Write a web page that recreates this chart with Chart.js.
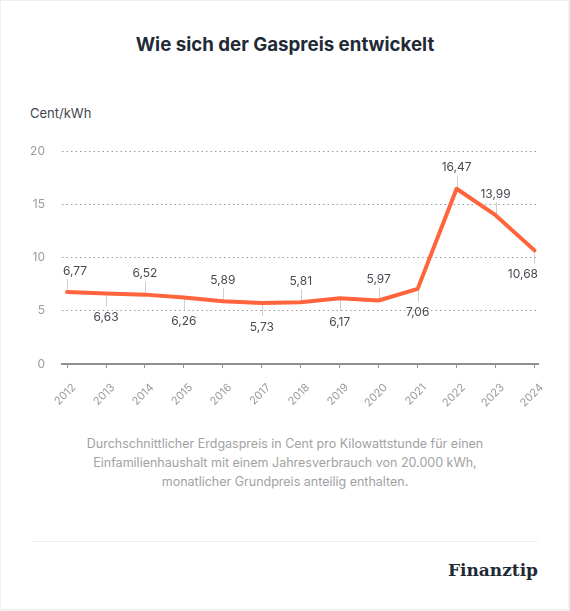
<!DOCTYPE html>
<html lang="de">
<head>
<meta charset="utf-8">
<title>Wie sich der Gaspreis entwickelt</title>
<script src="https://cdn.jsdelivr.net/npm/chart.js@4/dist/chart.umd.min.js"></script>
<style>
  html, body { margin: 0; padding: 0; background: #ffffff; }
  body { width: 570px; height: 611px; position: relative; overflow: hidden; font-family: Inter, "Noto Sans", sans-serif; }
  .frame { position: absolute; left: 0; top: 0; width: 570px; height: 611px; box-sizing: border-box;
           border-left: 1px solid #efefef; border-top: 1px solid #efefef; border-right: 2px solid #efefef; border-bottom: 2px solid #efefef; pointer-events: none; }
  h1 { position: absolute; left: 0; top: 33px; width: 570px; margin: 0; text-align: center;
       font-size: 18.7px; line-height: 24px; font-weight: 700; color: #1f2a36; }
  .unit { position: absolute; left: 30px; top: 105px; font-size: 13px; line-height: 16px; color: #3f4750; }
  #wrap { position: absolute; left: 0; top: 127px; width: 570px; height: 293px; }
  .caption { position: absolute; left: 0; top: 434px; width: 570px; text-align: center;
             font-size: 12.5px; line-height: 19px; color: #a2a2a2; }
  .sep { position: absolute; left: 31px; top: 541px; width: 507px; height: 1px; background: #efefef; }
  .logo { position: absolute; right: 32px; top: 559px; font-family: "DejaVu Serif", serif; font-weight: 700;
          font-size: 17px; line-height: 22px; color: #1f2a36; }
</style>
</head>
<body>
<div class="frame"></div>
<h1>Wie sich der Gaspreis entwickelt</h1>
<div class="unit">Cent/kWh</div>
<div id="wrap"><canvas id="c" width="570" height="293"></canvas></div>
<div class="caption">Durchschnittlicher Erdgaspreis in Cent pro Kilowattstunde für einen<br>Einfamilienhaushalt mit einem Jahresverbrauch von 20.000 kWh,<br>monatlicher Grundpreis anteilig enthalten.</div>
<div class="sep"></div>
<div class="logo">Finanztip</div>
<script>
// ---- data ----
const years = ["2012","2013","2014","2015","2016","2017","2018","2019","2020","2021","2022","2023","2024"];
const prices = [6.77, 6.63, 6.52, 6.26, 5.89, 5.73, 5.81, 6.17, 5.97, 7.06, 16.47, 13.99, 10.68];
const yTicks = [0, 5, 10, 15, 20];

// label placement (above / below the point)
const labelSide = ["up","down","up","down","up","down","up","down","up","down","up","up","down"];

Chart.defaults.font.family = 'Inter, "Noto Sans", sans-serif';

const fmt = v => v.toFixed(2).replace('.', ',');

const valueLabels = {
  id: 'valueLabels',
  beforeDatasetsDraw(chart) {
    const ctx = chart.ctx;
    const meta = chart.getDatasetMeta(0);
    ctx.save();
    ctx.strokeStyle = '#cfcfcf';
    ctx.lineWidth = 1;
    meta.data.forEach((pt, i) => {
      const x = Math.round(pt.x) + 0.5;
      ctx.beginPath();
      if (labelSide[i] === 'up') { ctx.moveTo(x, pt.y - 13); ctx.lineTo(x, pt.y); }
      else { ctx.moveTo(x, pt.y); ctx.lineTo(x, pt.y + 13); }
      ctx.stroke();
    });
    ctx.restore();
  },
  afterDatasetsDraw(chart) {
    const ctx = chart.ctx;
    const meta = chart.getDatasetMeta(0);
    const area = chart.chartArea;
    ctx.save();
    ctx.font = '12px Inter, "Noto Sans", sans-serif';
    ctx.fillStyle = '#464c52';
    ctx.textAlign = 'center';
    ctx.textBaseline = 'middle';
    meta.data.forEach((pt, i) => {
      const txt = fmt(prices[i]);
      const w = ctx.measureText(txt).width;
      let cx = pt.x;
      cx = Math.max(area.left + 1 + w / 2, Math.min(area.right - w / 2, cx));
      const cy = labelSide[i] === 'up' ? pt.y - 21 : pt.y + 24;
      ctx.fillText(txt, cx, cy);
    });
    ctx.restore();
  }
};

new Chart(document.getElementById('c'), {
  type: 'line',
  data: {
    datasets: [{
      data: years.map((y, i) => ({ x: Number(y), y: prices[i] })),
      borderColor: '#ff643c',
      borderWidth: 4,
      pointRadius: 0,
      pointHoverRadius: 0,
      tension: 0,
      borderJoinStyle: 'round',
      borderCapStyle: 'round',
      clip: false
    }]
  },
  options: {
    responsive: false,
    animation: false,
    devicePixelRatio: 1,
    layout: { padding: { top: 18, right: 32, left: 0, bottom: 0 } },
    plugins: { legend: { display: false }, tooltip: { enabled: false } },
    scales: {
      x: {
        type: 'linear',
        min: 2011.87,
        max: 2024.09,
        afterBuildTicks: s => { s.ticks = years.map(y => ({ value: Number(y) })); },
        afterFit: s => { s.height = 56; },
        ticks: {
          callback: v => String(v),
          minRotation: 45, maxRotation: 45,
          autoSkip: false,
          color: '#9b9b9b',
          font: { size: 11 },
          padding: 13,
          labelOffset: 7
        },
        grid: { drawOnChartArea: false, drawTicks: true, tickLength: 4, color: '#8c9196', lineWidth: 1 },
        border: { display: true, color: '#8c9196', width: 2 }
      },
      y: {
        min: 0, max: 20,
        afterBuildTicks: s => { s.ticks = yTicks.map(v => ({ value: v })); },
        afterFit: s => { s.width = 62; },
        ticks: { color: '#9b9b9b', font: { size: 12 }, padding: 17 },
        grid: { drawTicks: false, color: '#9a9a9a', lineWidth: 1 },
        border: { display: false, dash: [1.5, 3] }
      }
    }
  },
  plugins: [valueLabels]
});
</script>
</body>
</html>
